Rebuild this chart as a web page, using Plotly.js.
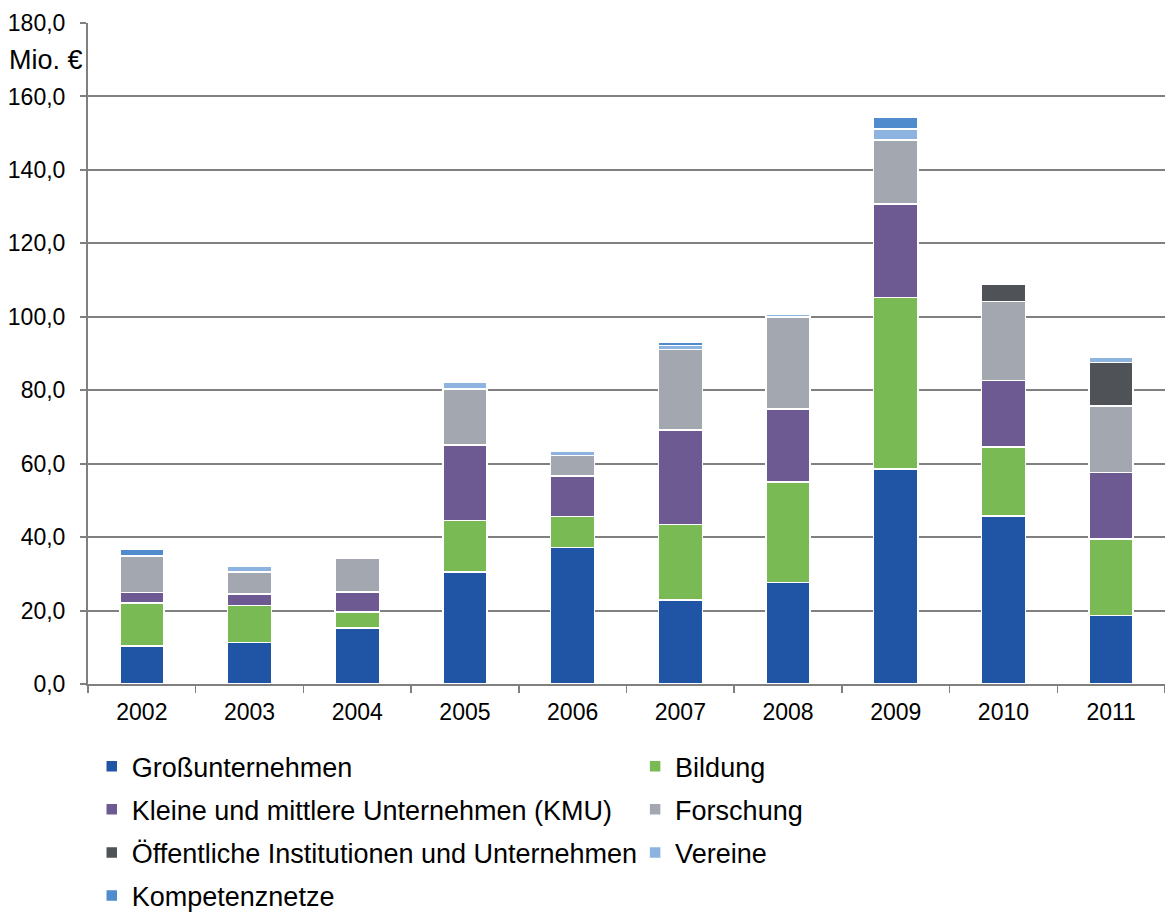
<!DOCTYPE html>
<html>
<head>
<meta charset="utf-8">
<script src="https://cdn.plot.ly/plotly-3.0.1.min.js"></script>
<style>html,body{margin:0;padding:0;background:#fff;}#chart{width:1165px;height:912px;}</style>
</head>
<body>
<div id="chart"></div>
<script>
const years = ["2002","2003","2004","2005","2006","2007","2008","2009","2010","2011"];
const grossunternehmen = [10.3, 11.3, 15.2, 30.5, 37.2, 22.9, 27.6, 58.6, 45.8, 18.7];
const bildung = [11.8, 10.1, 4.4, 14.0, 8.4, 20.6, 27.4, 46.7, 18.8, 20.8];
const kmu = [2.8, 3.1, 5.5, 20.6, 11.0, 25.7, 19.9, 25.4, 18.0, 18.1];
const forschung = [10.0, 6.0, 9.1, 15.2, 5.6, 21.9, 25.1, 17.4, 21.5, 18.1];
const oeffentliche = [0, 0, 0, 0, 0, 0, 0, 0, 4.7, 11.8];
const vereine = [0, 1.6, 0, 2.0, 1.2, 1.1, 0.7, 3.0, 0, 1.5];
const kompetenznetze = [1.9, 0, 0, 0, 0, 1.0, 0, 3.3, 0, 0];
const yTicks = [0, 20, 40, 60, 80, 100, 120, 140, 160, 180];

const series = [
  {name: "Großunternehmen", y: grossunternehmen, color: "#1f55a4", legend: "legend"},
  {name: "Bildung", y: bildung, color: "#7aba55", legend: "legend2"},
  {name: "Kleine und mittlere Unternehmen (KMU)", y: kmu, color: "#6e5a93", legend: "legend"},
  {name: "Forschung", y: forschung, color: "#a3a8b0", legend: "legend2"},
  {name: "Öffentliche Institutionen und Unternehmen", y: oeffentliche, color: "#4f5357", legend: "legend"},
  {name: "Vereine", y: vereine, color: "#8db4e0", legend: "legend2"},
  {name: "Kompetenznetze", y: kompetenznetze, color: "#4f8bcd", legend: "legend"}
];

const traces = series.map((s, i) => ({
  type: "bar",
  name: s.name,
  x: years,
  y: s.y,
  legend: s.legend,
  legendgroup: "g" + i,
  marker: {color: s.color, line: {color: "#ffffff", width: 1.5}},
  hoverinfo: "x+y+name"
}));

const legendFont = {family: "Liberation Sans, Arial, sans-serif", size: 27, color: "#000"};

const layout = {
  width: 1165, height: 912,
  margin: {l: 88, r: 0, t: 23, b: 228, autoexpand: false},
  paper_bgcolor: "#fff", plot_bgcolor: "#fff",
  barmode: "stack",
  bargap: 0.59,
  separators: ",.",
  font: {family: "Liberation Sans, Arial, sans-serif", size: 23, color: "#000"},
  xaxis: {
    type: "category",
    showline: true, linecolor: "#808080", linewidth: 2,
    ticks: "outside", tickson: "boundaries", ticklen: 7, tickcolor: "#808080", tickwidth: 1.5,
    ticklabelstandoff: 6,
    tickfont: {size: 23}, showgrid: false, fixedrange: true
  },
  yaxis: {
    range: [0, 180], tickvals: yTicks, tickformat: ".1f",
    showline: true, linecolor: "#808080", linewidth: 2,
    ticks: "outside", ticklen: 6, tickcolor: "#808080", tickwidth: 2,
    ticklabelstandoff: 10,
    showgrid: true, gridcolor: "#808080", gridwidth: 2,
    zeroline: false, tickfont: {size: 23}, fixedrange: true
  },
  showlegend: true,
  legend: {
    orientation: "v", x: 0.0035, xanchor: "left", y: -0.088, yanchor: "top",
    font: legendFont, tracegroupgap: 5, bgcolor: "rgba(0,0,0,0)", traceorder: "grouped"
  },
  legend2: {
    orientation: "v", x: 0.508, xanchor: "left", y: -0.088, yanchor: "top",
    font: legendFont, tracegroupgap: 5, bgcolor: "rgba(0,0,0,0)", traceorder: "grouped"
  },
  annotations: [{
    text: "Mio. €", xref: "paper", yref: "y", x: 0, y: 170, xanchor: "right", yanchor: "middle",
    xshift: -3, showarrow: false, font: {size: 27, color: "#000"}
  }]
};

Plotly.newPlot("chart", traces, layout, {displayModeBar: false, staticPlot: true});
</script>
</body>
</html>
